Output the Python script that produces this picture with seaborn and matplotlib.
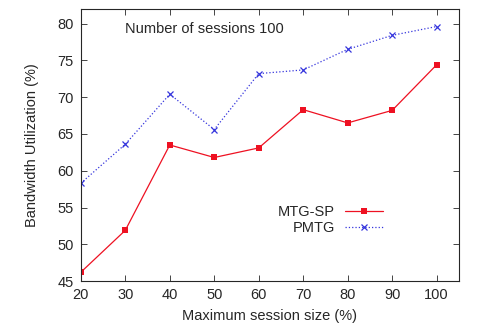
import matplotlib
matplotlib.use("Agg")
import matplotlib.pyplot as plt
import seaborn as sns
import pandas as pd

session_size = [20, 30, 40, 50, 60, 70, 80, 90, 100]
mtg_sp = [46.2, 51.9, 63.5, 61.8, 63.1, 68.3, 66.5, 68.2, 74.4]
pmtg = [58.3, 63.6, 70.4, 65.6, 73.2, 73.7, 76.5, 78.4, 79.6]

sns.set_style("ticks")
plt.rcParams['font.family'] = ['Liberation Sans', 'DejaVu Sans']

df = pd.DataFrame({'size': session_size * 2,
                   'util': mtg_sp + pmtg,
                   'method': ['MTG-SP'] * len(session_size) + ['PMTG'] * len(session_size)})

fig = plt.figure(figsize=(4.81, 3.28), dpi=100)
ax = fig.add_axes([0.168, 0.143, 0.786, 0.830])

sns.lineplot(data=df[df.method == 'MTG-SP'], x='size', y='util', ax=ax,
             color='#ee1122', lw=0.9, marker='s', markersize=4, markeredgewidth=0,
             label='MTG-SP')
sns.lineplot(data=df[df.method == 'PMTG'], x='size', y='util', ax=ax,
             color='#3535dd', lw=0.9, ls=':', marker='x', markersize=4, markeredgewidth=0.9,
             markeredgecolor='#3535dd', label='PMTG')

ax.set_xlim(20, 105)
ax.set_ylim(45, 82)
ax.set_xticks(session_size)
ax.set_yticks([45, 50, 55, 60, 65, 70, 75, 80])
ax.tick_params(direction='in', top=True, right=True, labelsize=10.5, length=4, width=0.6, pad=5)
for s in ax.spines.values():
    s.set_linewidth(0.8)
ax.set_xlabel('Maximum session size (%)', fontsize=10.5, labelpad=5)
ax.set_ylabel('Bandwidth Utilization (%)', fontsize=10.5, labelpad=13)

ax.text(29.9, 79.2, 'Number of sessions 100', fontsize=10.5, va='center', ha='left')

leg = ax.legend(loc='center right', bbox_to_anchor=(0.80, 0.225), frameon=False,
                fontsize=10.5, markerfirst=False, handlelength=2.6, handletextpad=0.7,
                labelspacing=0.15, borderpad=0, borderaxespad=0, alignment='right')

fig.savefig('out.png', dpi=100)
